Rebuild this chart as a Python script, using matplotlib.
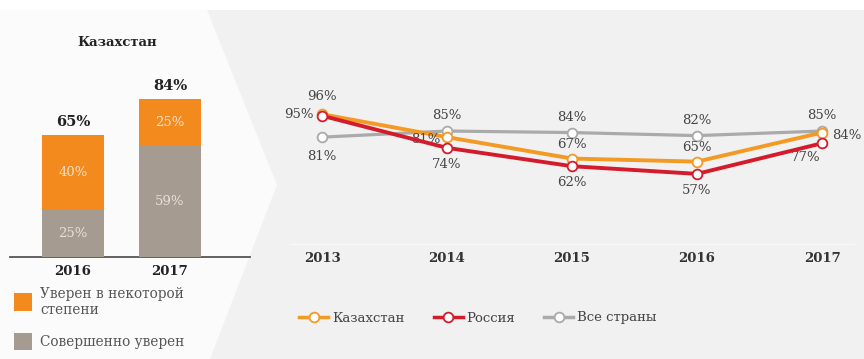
import matplotlib.pyplot as plt
from matplotlib.patches import Polygon
from matplotlib.lines import Line2D

plt.rcParams['font.family'] = ['DejaVu Serif', 'Liberation Serif']

W, H = 864, 359

# bar data (Kazakhstan)
bar_years = ["2016", "2017"]
fully_sure = [25, 59]
somewhat_sure = [40, 25]
totals = [65, 84]

# line data
years = [2013, 2014, 2015, 2016, 2017]
kaz = [96, 81, 67, 65, 84]
rus = [95, 74, 62, 57, 77]
allc = [81, 85, 84, 82, 85]

ORANGE = "#f28a1e"
TAUPE = "#a69b91"
LORANGE = "#f39a24"
RED = "#d41b2c"
LGRAY = "#aaaaaa"

fig = plt.figure(figsize=(W / 100, H / 100), dpi=100, facecolor="white")

# background panels
bg = fig.add_axes([0, 0, 1, 1])
bg.set_xlim(0, W)
bg.set_ylim(H, 0)
bg.axis("off")
bg.add_patch(Polygon([(0, 10), (207, 10), (277, 185), (210, 359), (0, 359)],
                     closed=True, fc="#fbfbfb", ec="none"))
bg.add_patch(Polygon([(207, 10), (W, 10), (W, H), (210, H), (277, 185)],
                     closed=True, fc="#f1f1f1", ec="none"))
bg.plot([10, 250], [257, 257], color="#555555", lw=1.3)


def px(x0, y_top, x1, y_bot):
    return [x0 / W, 1 - y_bot / H, (x1 - x0) / W, (y_bot - y_top) / H]


# stacked bars
axb = fig.add_axes(px(10, 20, 250, 257))
axb.set_xlim(-0.649, 1.825)
axb.set_ylim(0, 126)
axb.axis("off")
xb = [0, 1]
axb.bar(xb, fully_sure, width=0.63, color=TAUPE)
axb.bar(xb, somewhat_sure, width=0.63, bottom=fully_sure, color=ORANGE)
for i in range(2):
    axb.text(xb[i], fully_sure[i] / 2, f"{fully_sure[i]}%", ha="center", va="center",
             color="#e6e0da", fontsize=9.5)
    axb.text(xb[i], fully_sure[i] + somewhat_sure[i] / 2, f"{somewhat_sure[i]}%",
             ha="center", va="center", color="#fbe0c4", fontsize=9.5)
    axb.text(xb[i], totals[i] + 3, f"{totals[i]}%", ha="center", va="bottom",
             color="#222222", fontsize=10.5, fontweight="bold")
    axb.text(xb[i], -4, bar_years[i], ha="center", va="top", color="#222222",
             fontsize=9.5, fontweight="bold")
fig.text(117 / W, 1 - 42 / H, "Казахстан", ha="center", va="center",
         fontsize=9.5, fontweight="bold", color="#222222")

# bar legend
bg.add_patch(plt.Rectangle((14, 293), 18, 18, fc=ORANGE, ec="none"))
bg.add_patch(plt.Rectangle((14, 333), 18, 17, fc=TAUPE, ec="none"))
bg.text(40, 302, "Уверен в некоторой\nстепени", ha="left", va="center",
        fontsize=9.8, color="#555555", linespacing=1.1)
bg.text(40, 342, "Совершенно уверен", ha="left", va="center",
        fontsize=9.8, color="#555555")

# line chart
axl = fig.add_axes(px(290, 40, 855, 245))
axl.set_xlim(2012.744, 2017.264)
axl.set_ylim(10.5, 144.5)
for s in axl.spines.values():
    s.set_visible(False)
axl.patch.set_visible(False)
axl.set_yticks([])
axl.set_xticks(years)
axl.set_xticklabels([str(y) for y in years], fontweight="bold", color="#333333",
                    fontsize=9.5)
axl.tick_params(axis="x", length=0, pad=5)
axl.axhline(10.5, color="#fafafa", lw=2)

mk = dict(marker="o", markersize=7, markerfacecolor="white", markeredgewidth=1.3)
axl.plot(years, allc, color=LGRAY, lw=2.3, markeredgecolor=LGRAY, zorder=2, **mk)
axl.plot(years, kaz, color=LORANGE, lw=2.8, markeredgecolor=LORANGE, zorder=3, **mk)
axl.plot(years, rus, color=RED, lw=2.8, markeredgecolor=RED, zorder=4, **mk)

fs = 9.5
tc = "#444444"


def lab(x, y, v, dx, dy):
    axl.annotate(f"{v}%", (x, y), xytext=(dx, dy), textcoords="offset points",
                 ha="center", va="center", fontsize=fs, color=tc)


# all countries labels
lab(years[0], allc[0], allc[0], 0, -14)
for i in range(1, 5):
    lab(years[i], allc[i], allc[i], 0, 11)
# Kazakhstan labels
lab(years[0], kaz[0], kaz[0], 0, 13)
lab(years[1], kaz[1], kaz[1], -15, -2)
lab(years[2], kaz[2], kaz[2], 0, 10)
lab(years[3], kaz[3], kaz[3], 0, 10)
lab(years[4], kaz[4], kaz[4], 18, -2)
# Russia labels
lab(years[0], rus[0], rus[0], -17, 1)
for i in range(1, 4):
    lab(years[i], rus[i], rus[i], 0, -12)
lab(years[4], rus[4], rus[4], -12, -10)

handles = [Line2D([], [], color=LORANGE, lw=2.5, markeredgecolor=LORANGE, **mk),
           Line2D([], [], color=RED, lw=2.5, markeredgecolor=RED, **mk),
           Line2D([], [], color=LGRAY, lw=2.5, markeredgecolor=LGRAY, **mk)]
fig.legend(handles, ["Казахстан", "Россия", "Все страны"], loc="center",
           bbox_to_anchor=(478 / W, 1 - 318 / H), ncol=3, frameon=False,
           fontsize=9.5, handlelength=2.2, handletextpad=0.3, columnspacing=2.2,
           labelcolor="#444444")

fig.savefig("out.png", dpi=100, facecolor=fig.get_facecolor())
